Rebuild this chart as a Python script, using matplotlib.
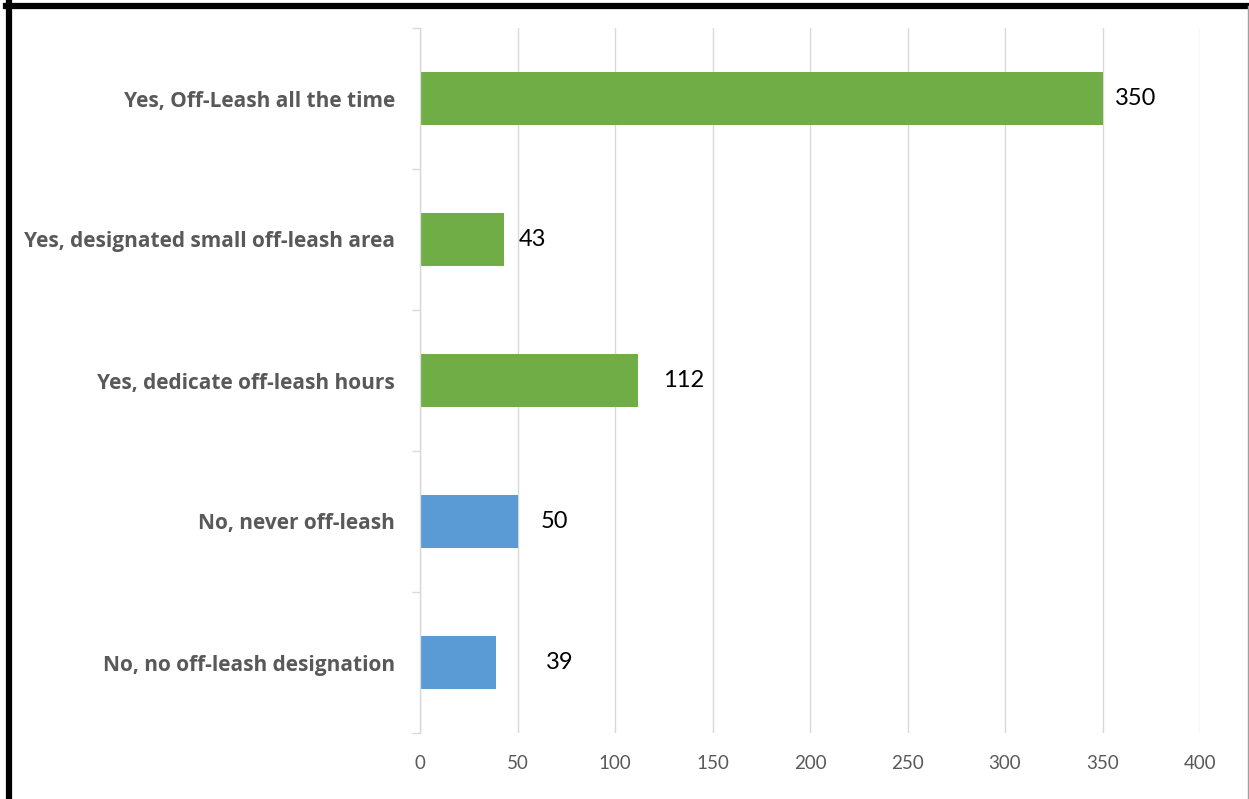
import matplotlib
matplotlib.use("Agg")
import matplotlib.pyplot as plt
from matplotlib.lines import Line2D

categories = [
    "Yes, Off-Leash all the time",
    "Yes, designated small off-leash area",
    "Yes, dedicate off-leash hours",
    "No, never off-leash",
    "No, no off-leash designation",
]
values = [350, 43, 112, 50, 39]
bar_colors = ["#70AD47", "#70AD47", "#70AD47", "#5B9BD5", "#5B9BD5"]
x_ticks = [0, 50, 100, 150, 200, 250, 300, 350, 400]
# label offsets (in points) from bar end, as placed in the original
label_offsets = [9, 11, 18, 17, 36]

W, H = 1249, 799
fig = plt.figure(figsize=(W / 100, H / 100), dpi=100)
ax = fig.add_axes([420 / W, 1 - 733 / H, 780 / W, 705 / H])

ypos = list(range(len(categories)))
ax.barh(ypos, values, height=0.38, color=bar_colors, zorder=2)

ax.set_xlim(0, 400)
ax.set_ylim(len(categories) - 0.5, -0.5)
ax.set_xticks(x_ticks)
ax.set_xticklabels([str(t) for t in x_ticks], fontsize=13.5, color="#595959",
                   family=["Lato", "DejaVu Sans"])
ax.tick_params(axis="x", length=0, pad=16)
ax.grid(axis="x", color="#D9D9D9", linewidth=1, zorder=0)

ax.set_yticks(ypos)
ax.set_yticklabels(categories, fontsize=15, color="#595959", fontweight="bold",
                   family=["Open Sans", "DejaVu Sans"])
ax.tick_params(axis="y", length=0, pad=18)
# category boundary tick marks
ax.set_yticks([i - 0.5 for i in range(len(categories) + 1)], minor=True)
ax.tick_params(axis="y", which="minor", length=6, color="#D9D9D9", width=1)

for s in ["top", "right", "bottom"]:
    ax.spines[s].set_visible(False)
ax.spines["left"].set_color("#D9D9D9")
ax.spines["left"].set_linewidth(1)

for i, (v, off) in enumerate(zip(values, label_offsets)):
    ax.annotate(str(v), xy=(v, i), xytext=(off, 0), textcoords="offset points",
                ha="left", va="center", fontsize=17, color="#000000",
                family=["Lato", "DejaVu Sans"])

# outer frame
fig.add_artist(Line2D([8.5 / W, 8.5 / W], [0, 1 - 3 / H], color="black", linewidth=4.5))
fig.add_artist(Line2D([6 / W, 1], [1 - 6 / H, 1 - 6 / H], color="black", linewidth=4.5))
fig.add_artist(Line2D([1247.5 / W, 1247.5 / W], [0, 1 - 6 / H], color="#A0A0A0", linewidth=1))

fig.savefig("out.png", dpi=100, facecolor="white")
